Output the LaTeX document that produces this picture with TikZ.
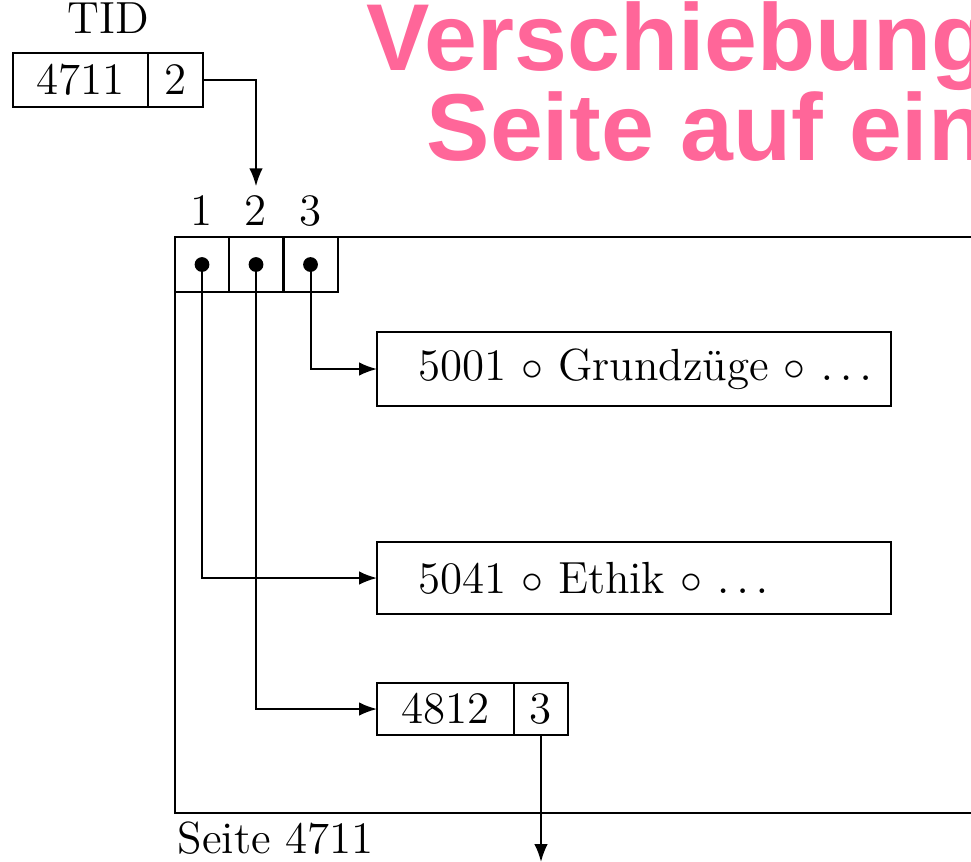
\documentclass[tikz,border=0pt]{standalone}
\usepackage{fontspec}
\newfontfamily\titlefont{Liberation Sans}
\usetikzlibrary{positioning,arrows.meta}
\definecolor{TitlePink}{RGB}{255,102,153}
\tikzset{
	cell/.style={draw=black,line width=0.5pt,minimum height=13.5pt,inner sep=0pt,outer sep=0pt},
	rec/.style={draw=black,line width=0.5pt,anchor=west,inner xsep=0pt,
		text width=128.5pt,align=left,outer sep=0pt,execute at begin node=\hspace*{10.25pt}},
	ptr/.style={draw=black,line width=0.5pt,-{Latex[length=4.5pt,width=3.4pt]}},
	dot/.style={circle,fill=black,inner sep=0pt,minimum size=3.7pt},
	title/.style={font=\titlefont\bfseries\fontsize{23.75}{26}\selectfont,text=TitlePink,inner sep=0pt,anchor=base west},
}

\begin{document}
\begin{tikzpicture}[x=0.25pt,y=-0.25pt,font=\fontsize{11.25}{13}\selectfont]
	\useasboundingbox (0,0) rectangle (971,861);
	\clip (0,0) rectangle (971,861);
	% heading
	\node[title] (titleA) at (366,70) {Verschiebung};
	\node[title] (titleB) at (426,160) {Seite auf ein};
	% tuple identifier
	\node[anchor=base] (tidlabel) at (108,33) {TID};
	\node[cell,minimum width=33.75pt] (tidpage) at (80.5,80) {4711};
	\node[cell,minimum width=13.75pt,right=0pt of tidpage] (tidslot) {2};
	% page with slot array
	\draw[line width=0.5pt] (175,237) rectangle (1000,813);
	\node[anchor=base west,inner sep=0pt] (pagelabel) at (177,853) {Seite 4711};
	\foreach \i/\x in {1/202,2/256,3/310.5}{
		\node[cell,minimum width=13.5pt,minimum height=13.75pt] (slot\i) at (\x,264.5) {};
		\node[anchor=base,inner sep=2pt] (num\i) at (\x,225) {\i};
	}
	% records
	\node[rec,minimum height=18.5pt] (rec5001) at (377,369) {5001 $\circ$ Grundzüge $\circ$ $\ldots$};
	\node[rec,minimum height=18pt] (rec5041) at (377,578) {5041 $\circ$ Ethik $\circ$ $\ldots$};
	\node[cell,anchor=west,minimum width=34.25pt,minimum height=13pt] (fwdpage) at (377,709) {4812};
	\node[cell,minimum width=13.5pt,minimum height=13pt,right=0pt of fwdpage] (fwdslot) {3};
	\coordinate (nextpage) at (fwdslot.south |- 0,862);
	% pointers
	\draw[ptr] (tidslot.east) -| (num2.north);
	\draw[ptr] (slot3.center) |- (rec5001.west);
	\draw[ptr] (slot1.center) |- (rec5041.west);
	\draw[ptr] (slot2.center) |- (fwdpage.west);
	\draw[ptr] (fwdslot.south) -- (nextpage);
	\foreach \i in {1,2,3}
	\node[dot] at (slot\i.center) {};
\end{tikzpicture}
\end{document}
